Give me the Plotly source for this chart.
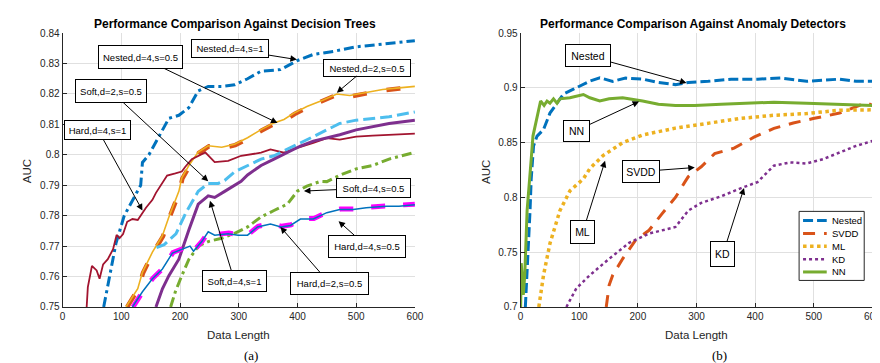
import plotly.graph_objects as go

# ---------------- Left panel data (Decision trees) ----------------
nested_d4_s1_x = [70, 91, 105, 133, 136, 147, 164, 181, 198, 215, 231, 248, 271, 293, 315, 338, 371, 400, 427, 461, 500, 545, 600]
nested_d4_s1_y = [0.750, 0.771, 0.780, 0.790, 0.7975, 0.800, 0.806, 0.812, 0.813, 0.8155, 0.821, 0.8225, 0.8225, 0.823, 0.825, 0.8275, 0.828, 0.831, 0.833, 0.834, 0.8355, 0.8365, 0.8375]

nested_d4_s05_x = [108, 128, 136, 153, 170, 181, 198, 203, 215, 231, 248, 271, 293, 315, 338, 360, 377, 394, 416, 444, 467, 489, 517, 545, 573, 600]
nested_d4_s05_y = [0.750, 0.756, 0.7614, 0.768, 0.7734, 0.7796, 0.788, 0.7924, 0.7965, 0.8009, 0.803, 0.8025, 0.8035, 0.8056, 0.8083, 0.8105, 0.8116, 0.8137, 0.8159, 0.818, 0.820, 0.8195, 0.8205, 0.8215, 0.822, 0.8225]

nested_d2_s05_x = [110, 129, 137, 154, 171, 182, 199, 204, 216, 232, 249, 272, 294, 316, 339, 361, 378, 395, 417, 445, 468, 490, 518, 546, 574, 600]
nested_d2_s05_y = [0.750, 0.756, 0.7612, 0.7678, 0.7732, 0.7794, 0.7878, 0.7922, 0.7962, 0.8006, 0.8028, 0.8022, 0.8032, 0.8053, 0.8080, 0.8102, 0.8113, 0.8134, 0.8156, 0.8178, 0.8198, 0.8192, 0.8202, 0.8212, 0.8218, 0.8222]

hard_d4_s1_x = [41, 43, 50, 58, 63, 69, 77, 86, 92, 97, 103, 110, 119, 128, 142, 153, 159, 167, 178, 192, 203, 209, 220, 243, 259, 282, 304, 338, 354, 377, 400, 427, 450, 472, 500, 528, 556, 600]
hard_d4_s1_y = [0.750, 0.7565, 0.7635, 0.762, 0.7593, 0.764, 0.7657, 0.769, 0.7737, 0.7726, 0.774, 0.778, 0.7789, 0.7786, 0.7826, 0.7852, 0.7875, 0.790, 0.7932, 0.7939, 0.7945, 0.7961, 0.7986, 0.8008, 0.7976, 0.798, 0.7997, 0.8007, 0.8018, 0.8007, 0.8023, 0.8039, 0.8055, 0.805, 0.806, 0.8063, 0.8066, 0.807]

soft_d2_s05_x = [160, 173, 193, 210, 231, 248, 265, 276, 293, 315, 338, 360, 383, 405, 427, 450, 472, 500, 528, 556, 600]
soft_d2_s05_y = [0.7695, 0.7705, 0.774, 0.781, 0.788, 0.7906, 0.7906, 0.7916, 0.7944, 0.7965, 0.7986, 0.7997, 0.8018, 0.8039, 0.806, 0.8082, 0.8103, 0.8114, 0.8119, 0.8125, 0.8141]

soft_d4_s1_x = [159, 170, 181, 198, 215, 231, 248, 259, 276, 304, 315, 338, 360, 383, 405, 427, 450, 472, 500, 528, 556, 600]
soft_d4_s1_y = [0.750, 0.756, 0.7603, 0.7657, 0.7753, 0.7838, 0.7865, 0.786, 0.788, 0.7913, 0.7934, 0.7965, 0.7986, 0.8007, 0.8029, 0.8045, 0.8055, 0.8066, 0.8082, 0.8093, 0.8103, 0.8114]

soft_d4_s05_x = [184, 192, 203, 215, 231, 248, 271, 293, 315, 338, 360, 383, 400, 416, 439, 450, 472, 500, 528, 556, 600]
soft_d4_s05_y = [0.750, 0.755, 0.7603, 0.7656, 0.770, 0.7715, 0.7726, 0.7742, 0.7763, 0.7796, 0.7817, 0.7838, 0.7881, 0.7897, 0.7913, 0.7912, 0.7933, 0.7954, 0.7965, 0.7986, 0.8008]

hard_d4_s05_x = [119, 136, 153, 170, 187, 203, 217, 223, 237, 248, 259, 282, 299, 315, 332, 354, 372, 388, 405, 427, 450, 472, 495, 517, 551, 573, 600]
hard_d4_s05_y = [0.750, 0.755, 0.7593, 0.7625, 0.7677, 0.7688, 0.770, 0.7683, 0.7715, 0.7747, 0.7736, 0.7741, 0.7736, 0.7736, 0.7763, 0.7773, 0.7763, 0.7768, 0.7789, 0.7789, 0.781, 0.782, 0.782, 0.7826, 0.7831, 0.7831, 0.7836]

hard_d2_s05_x = [120, 137, 154, 171, 188, 204, 218, 224, 238, 249, 260, 283, 300, 316, 333, 355, 373, 389, 406, 428, 451, 473, 496, 518, 552, 574, 600]
hard_d2_s05_y = [0.750, 0.7552, 0.7595, 0.7627, 0.7679, 0.7690, 0.7702, 0.7686, 0.7717, 0.7749, 0.7738, 0.7743, 0.7738, 0.7738, 0.7765, 0.7775, 0.7765, 0.7770, 0.7791, 0.7791, 0.7812, 0.7822, 0.7822, 0.7828, 0.7833, 0.7833, 0.7838]

# ---------------- Right panel data (Anomaly detectors) ----------------
r_nested_x = [8, 11, 16, 18, 20, 22, 28, 39, 50, 62, 73, 90, 107, 118, 135, 157, 179, 208, 235, 264, 286, 320, 359, 404, 443, 488, 544, 572, 600]
r_nested_y = [0.700, 0.729, 0.788, 0.817, 0.838, 0.847, 0.856, 0.862, 0.877, 0.8855, 0.8944, 0.8988, 0.9033, 0.9062, 0.9092, 0.906, 0.909, 0.908, 0.905, 0.903, 0.905, 0.906, 0.908, 0.908, 0.909, 0.906, 0.908, 0.906, 0.906]

r_svdd_x = [146, 151, 157, 174, 196, 219, 241, 264, 280, 286, 308, 331, 364, 398, 432, 465, 499, 544, 578, 589, 600]
r_svdd_y = [0.700, 0.720, 0.729, 0.744, 0.761, 0.770, 0.785, 0.800, 0.814, 0.819, 0.828, 0.840, 0.845, 0.855, 0.863, 0.868, 0.872, 0.877, 0.884, 0.887, 0.884]

r_ml_x = [31, 39, 50, 67, 84, 107, 118, 140, 174, 208, 264, 320, 376, 432, 488, 544, 600]
r_ml_y = [0.700, 0.729, 0.758, 0.788, 0.806, 0.817, 0.8263, 0.838, 0.850, 0.857, 0.8633, 0.8678, 0.8722, 0.875, 0.8766, 0.8796, 0.880]

r_kd_x = [78, 95, 118, 151, 185, 219, 264, 286, 308, 342, 376, 404, 432, 460, 488, 516, 544, 572, 600]
r_kd_y = [0.700, 0.717, 0.729, 0.744, 0.7585, 0.767, 0.773, 0.788, 0.795, 0.801, 0.8085, 0.814, 0.829, 0.832, 0.831, 0.835, 0.841, 0.847, 0.8515]

r_nn_x = [0, 1, 4.5, 7, 11, 16, 18, 21, 28, 34, 40, 45, 50, 56, 62, 67, 84, 107, 118, 135, 151, 174, 208, 235, 264, 297, 342, 376, 432, 488, 544, 600]
r_nn_y = [0.700, 0.740, 0.711, 0.729, 0.788, 0.817, 0.835, 0.856, 0.873, 0.888, 0.884, 0.888, 0.886, 0.890, 0.886, 0.890, 0.891, 0.894, 0.891, 0.888, 0.890, 0.891, 0.888, 0.885, 0.884, 0.884, 0.885, 0.886, 0.887, 0.886, 0.885, 0.884]

left_yticks = [0.75, 0.76, 0.77, 0.78, 0.79, 0.80, 0.81, 0.82, 0.83, 0.84]
left_yticklabels = ["0.75", "0.76", "0.77", "0.78", "0.79", "0.8", "0.81", "0.82", "0.83", "0.84"]
right_yticks = [0.70, 0.75, 0.80, 0.85, 0.90, 0.95]
right_yticklabels = ["0.7", "0.75", "0.8", "0.85", "0.9", "0.95"]
xticks = [0, 100, 200, 300, 400, 500, 600]
legend_names = ["Nested", "SVDD", "ML", "KD", "NN"]

BLUE = "#0072BD"; ORANGE = "#D95319"; YELLOW = "#EDB120"; PURPLE = "#7E2F8E"
GREEN = "#77AC30"; LBLUE = "#4DBEEE"; DRED = "#A2142F"; MAGENTA = "#FF00FF"

fig = go.Figure()

def add(x, y, color, width, dash="solid", xa="x", ya="y", name=None):
    fig.add_trace(go.Scatter(x=x, y=y, mode="lines", xaxis=xa, yaxis=ya, name=name,
                             showlegend=False, line=dict(color=color, width=width, dash=dash)))

# Left panel
add(nested_d4_s1_x, nested_d4_s1_y, BLUE, 3, "10px,4px,3px,4px")
add(nested_d2_s05_x, nested_d2_s05_y, ORANGE, 4.5, "14px,20px")
add(nested_d4_s05_x, nested_d4_s05_y, YELLOW, 1.6)
add(hard_d4_s1_x, hard_d4_s1_y, DRED, 1.8)
add(soft_d2_s05_x, soft_d2_s05_y, LBLUE, 3, "12px,5px")
add(soft_d4_s1_x, soft_d4_s1_y, PURPLE, 3)
add(soft_d4_s05_x, soft_d4_s05_y, GREEN, 3, "10px,4px,3px,4px")
add(hard_d2_s05_x, hard_d2_s05_y, MAGENTA, 5, "14px,18px")
add(hard_d4_s05_x, hard_d4_s05_y, BLUE, 1.5)

# Right panel
right_styles = [
    (r_nested_x, r_nested_y, BLUE, 3, "10px,4px"),
    (r_svdd_x, r_svdd_y, ORANGE, 3, "12px,9px"),
    (r_ml_x, r_ml_y, YELLOW, 3.5, "dot"),
    (r_kd_x, r_kd_y, PURPLE, 2.5, "dot"),
    (r_nn_x, r_nn_y, GREEN, 3, "solid"),
]
for (xs, ys, c, w, d), nm in zip(right_styles, legend_names):
    add(xs, ys, c, w, d, "x2", "y2", nm)

W, H = 880, 363
AX = "#262626"
GRID = "#e0e0e0"
tickfont = dict(family="Liberation Sans, Arial", size=10, color=AX)

def xaxis(domain, anchor):
    return dict(domain=domain, anchor=anchor, range=[0, 600], tickvals=xticks,
                showline=True, linecolor=AX, linewidth=1, ticks="inside", ticklen=4,
                tickcolor=AX, showgrid=True, gridcolor=GRID, gridwidth=1, zeroline=False,
                tickfont=tickfont, mirror=False)

def yaxis(domain, anchor, rng, tv, tt):
    return dict(domain=domain, anchor=anchor, range=rng, tickvals=tv, ticktext=tt,
                showline=True, linecolor=AX, linewidth=1, ticks="inside", ticklen=4,
                tickcolor=AX, showgrid=True, gridcolor=GRID, gridwidth=1, zeroline=False,
                tickfont=tickfont)

ydom = [1 - 302.3 / H, 1 - 20.7 / H]
annotations = []
shapes = []

def box(text, x, y, ax, ay, w, h, xr, yr, size):
    annotations.append(dict(text=text, x=x, y=y, ax=ax, ay=ay, xref=xr, yref=yr,
                            axref=xr, ayref=yr, showarrow=True, arrowhead=2, arrowsize=1.3,
                            arrowwidth=1, arrowcolor="black", bordercolor="black",
                            borderwidth=1, borderpad=0, bgcolor="white", width=w - 2, height=h - 2,
                            font=dict(family="Liberation Sans, Arial", size=size, color="black")))

# Left panel annotations: (text, tip x, tip y, box x, box y, box w, box h)
box("Nested,d=4,s=1", 399, 0.8313, 285, 0.8348, 78, 19, "x", "y", 9.5)
box("Nested,d=4,s=0.5", 366, 0.8105, 132, 0.8322, 85, 24, "x", "y", 9.5)
box("Soft,d=2,s=0.5", 248, 0.7913, 82, 0.8210, 72, 24, "x", "y", 9.5)
box("Hard,d=4,s=1", 136, 0.7817, 60, 0.8083, 67, 20, "x", "y", 9.5)
box("Nested,d=2,s=0.5", 467, 0.8204, 518, 0.8287, 88, 18, "x", "y", 9.5)
box("Soft,d=4,s=0.5", 411, 0.7881, 530, 0.7891, 75, 20, "x", "y", 9.5)
box("Hard,d=4,s=0.5", 470, 0.7782, 518, 0.7699, 78, 23, "x", "y", 9.5)
box("Soft,d=4,s=1", 251, 0.7849, 293, 0.7584, 65, 22, "x", "y", 9.5)
box("Hard,d=2,s=0.5", 371, 0.7763, 455, 0.7577, 79, 23, "x", "y", 9.5)

# Right panel annotations
box("Nested", 283, 0.9045, 115, 0.9293, 46, 23, "x2", "y2", 10.5)
box("NN", 202, 0.8876, 95, 0.8610, 27, 22, "x2", "y2", 10.5)
box("SVDD", 297, 0.8273, 206, 0.8237, 38, 23, "x2", "y2", 10.5)
box("ML", 144, 0.8334, 106, 0.7686, 25, 24, "x2", "y2", 10.5)
box("KD", 381, 0.8086, 345, 0.7482, 25, 26, "x2", "y2", 10.5)

def ptext(text, px, py, size, bold=False, family="Liberation Sans, Arial", angle=0, color="black", xanchor="center"):
    annotations.append(dict(text=("<b>%s</b>" % text) if bold else text, x=px / W, y=1 - py / H,
                            xref="paper", yref="paper", showarrow=False, textangle=angle,
                            xanchor=xanchor, yanchor="middle",
                            font=dict(family=family, size=size, color=color)))

ptext("Performance Comparison Against Decision Trees", 227, 11, 12, bold=True)
ptext("Performance Comparison Against Anomaly Detectors", 691, 11, 12, bold=True)
ptext("Data Length", 231, 331, 11.5, color=AX)
ptext("Data Length", 695, 331, 11.5, color=AX)
ptext("AUC", 16, 163, 11.5, angle=-90, color=AX)
ptext("AUC", 481, 163, 11.5, angle=-90, color=AX)
ptext("(a)", 243, 352, 13, family="Liberation Serif, Times New Roman")
ptext("(b)", 718, 352, 13, family="Liberation Serif, Times New Roman")

# Manual legend for the right panel (compact, MATLAB-like)
lx0, ly0, lx1, ly1 = 799, 204, 865, 275
shapes.append(dict(type="rect", xref="paper", yref="paper", x0=lx0 / W, x1=lx1 / W,
                   y0=1 - ly1 / H, y1=1 - ly0 / H, line=dict(color=AX, width=1),
                   fillcolor="white", layer="above"))
for i, ((xs, ys, c, w, d), nm) in enumerate(zip(right_styles, legend_names)):
    yy = 213.5 + i * 13.2
    shapes.append(dict(type="line", xref="paper", yref="paper", x0=803 / W, x1=827 / W,
                       y0=1 - yy / H, y1=1 - yy / H, layer="above",
                       line=dict(color=c, width=w, dash=d)))
    ptext(nm, 830, yy, 9.5, xanchor="left")

fig.update_layout(
    width=W, height=H, margin=dict(l=0, r=0, t=0, b=0),
    paper_bgcolor="white", plot_bgcolor="white",
    xaxis=xaxis([52.3 / W, 409.5 / W], "y"),
    yaxis=yaxis(ydom, "x", [0.75, 0.84], left_yticks, left_yticklabels),
    xaxis2=xaxis([516.7 / W, 873.3 / W], "y2"),
    yaxis2=yaxis(ydom, "x2", [0.70, 0.95], right_yticks, right_yticklabels),
    annotations=annotations,
    shapes=shapes,
    showlegend=False,
)

fig.write_html("out.html")
